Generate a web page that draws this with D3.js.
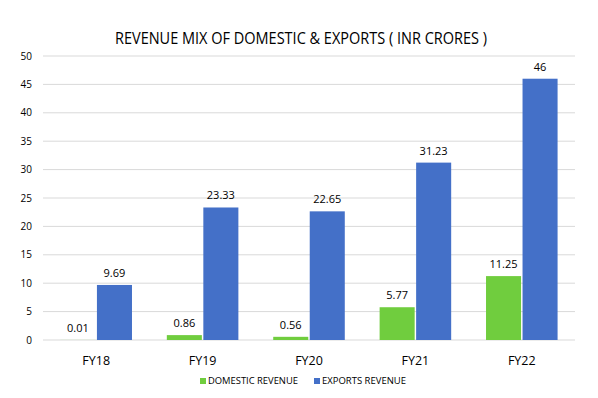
<!DOCTYPE html>
<html>
<head>
<meta charset="utf-8">
<script src="https://cdn.jsdelivr.net/npm/d3@7"></script>
<style>
  body { margin: 0; background: #fff; }
  text { font-family: "Open Sans", "Liberation Sans", sans-serif; fill: #000; }
</style>
</head>
<body>
<svg id="chart" width="598" height="398"></svg>
<script>
// chart data
const years = ["FY18", "FY19", "FY20", "FY21", "FY22"];
const domestic = [0.01, 0.86, 0.56, 5.77, 11.25];
const exports_ = [9.69, 23.33, 22.65, 31.23, 46];
const yTicks = [0, 5, 10, 15, 20, 25, 30, 35, 40, 45, 50];
const seriesNames = ["DOMESTIC REVENUE", "EXPORTS REVENUE"];
const colors = ["#70cd3e", "#4470c8"];

let svg = d3.select("#chart");

let canvas = {"width": 598, "height": 398,
  "marginLeft": 43, "marginRight": 23, "marginTop": 56, "marginBottom": 58};

let x0 = d3.scaleBand()
  .domain(years)
  .range([canvas.marginLeft, canvas.width - canvas.marginRight])
  .paddingInner(0.3)
  .paddingOuter(0.15);

let x1 = d3.scaleBand()
  .domain([0, 1])
  .range([0, x0.bandwidth()])
  .padding(0.04);

let y = d3.scaleLinear()
  .domain([0, 50])
  .range([canvas.height - canvas.marginBottom, canvas.marginTop]);

// gridlines
svg.selectAll(".grid")
  .data(yTicks)
  .join("line")
  .attr("class", "grid")
  .attr("x1", canvas.marginLeft)
  .attr("x2", canvas.width - canvas.marginRight)
  .attr("y1", d => y(d))
  .attr("y2", d => y(d))
  .attr("stroke", "#d9d9d9")
  .attr("stroke-width", 1);

// y axis labels
svg.selectAll(".ylab")
  .data(yTicks)
  .join("text")
  .attr("class", "ylab")
  .attr("x", 32)
  .attr("y", d => y(d))
  .attr("dy", "0.35em")
  .attr("text-anchor", "end")
  .attr("font-size", 10)
  .text(d => d);

// grouped data
let rows = [];
years.forEach((yr, i) => {
  rows.push({year: yr, s: 0, v: domestic[i]});
  rows.push({year: yr, s: 1, v: exports_[i]});
});

svg.selectAll(".bar")
  .data(rows)
  .join("rect")
  .attr("class", "bar")
  .attr("x", d => x0(d.year) + x1(d.s))
  .attr("width", x1.bandwidth())
  .attr("y", d => y(d.v))
  .attr("height", d => y(0) - y(d.v))
  .attr("fill", d => colors[d.s]);

svg.selectAll(".vlab")
  .data(rows)
  .join("text")
  .attr("class", "vlab")
  .attr("x", d => x0(d.year) + x1(d.s) + x1.bandwidth() / 2)
  .attr("y", d => y(d.v) - 8)
  .attr("text-anchor", "middle")
  .attr("font-size", 11)
  .text(d => d.v);

// x axis labels
svg.selectAll(".xlab")
  .data(years)
  .join("text")
  .attr("class", "xlab")
  .attr("x", d => x0(d) + x0.bandwidth() / 2)
  .attr("y", 365)
  .attr("text-anchor", "middle")
  .attr("font-size", 12.5)
  .text(d => d);

// title
svg.append("text")
  .attr("x", 301)
  .attr("y", 44)
  .attr("text-anchor", "middle")
  .attr("font-size", 16.5)
  .attr("textLength", 372)
  .attr("lengthAdjust", "spacingAndGlyphs")
  .text("REVENUE MIX OF DOMESTIC & EXPORTS ( INR CRORES )");

// legend
let legendX = [200, 314];
let legendLen = [90, 84];
let legend = svg.selectAll(".legend")
  .data(seriesNames)
  .join("g")
  .attr("class", "legend")
  .attr("transform", (d, i) => `translate(${legendX[i]}, 381)`);

legend.append("rect")
  .attr("x", 0)
  .attr("y", -3)
  .attr("width", 6)
  .attr("height", 6)
  .attr("fill", (d, i) => colors[i]);

legend.append("text")
  .attr("x", 8)
  .attr("y", 0)
  .attr("dy", "0.35em")
  .attr("font-size", 9.5)
  .attr("textLength", (d, i) => legendLen[i])
  .attr("lengthAdjust", "spacingAndGlyphs")
  .text(d => d);
</script>
</body>
</html>
